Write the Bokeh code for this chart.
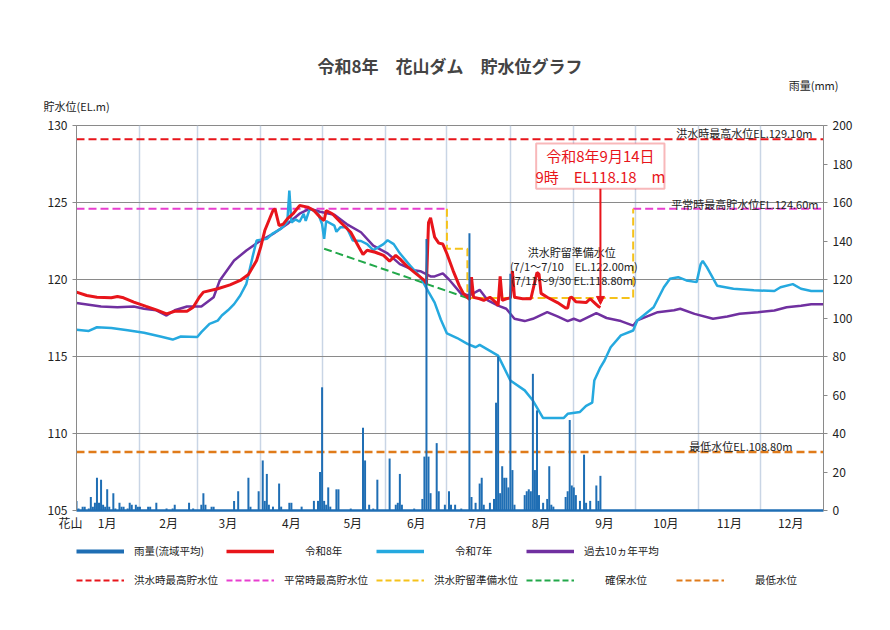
import numpy as np
from bokeh.plotting import figure
from bokeh.layouts import column
from bokeh.models import (Range1d, LinearAxis, FixedTicker, Legend, LegendItem,
                          Label, Arrow, NormalHead, Title, BoxAnnotation)
from bokeh.embed import file_html
from bokeh.resources import INLINE

FONT = "Noto Sans CJK JP"

# x axis: day of year, months
month_names = ["1月", "2月", "3月", "4月", "5月", "6月", "7月", "8月", "9月", "10月", "11月", "12月"]
month_starts = [0, 31, 59, 90, 120, 151, 181, 212, 243, 273, 304, 334, 365]
level_ticks = [105, 110, 115, 120, 125, 130]
rain_ticks = [0, 20, 40, 60, 80, 100, 120, 140, 160, 180, 200]

# daily basin-average rainfall (mm), 令和8年
rain_days = [0, 1, 3, 4, 6, 7, 8, 9, 10, 11, 12, 13, 14, 15, 16, 18, 19, 21, 22, 23, 25, 26, 27,
             29, 30, 31, 35, 36, 39, 44, 47, 48, 55, 57, 61, 62, 63, 66, 67, 77, 79, 84, 85, 89,
             91, 92, 93, 94, 96, 99, 100, 104, 105, 110, 116, 118, 119, 120, 121, 122, 123, 124,
             127, 128, 134, 140, 141, 143, 145, 147, 153, 156, 157, 158, 159, 165, 169, 170, 171,
             172, 173, 176, 177, 180, 182, 183, 185, 188, 192, 193, 195, 197, 198, 199, 202, 204,
             205, 206, 207, 208, 209, 210, 211, 212, 213, 214, 219, 220, 221, 222, 223, 224, 225,
             226, 228, 230, 231, 232, 233, 239, 240, 241, 242, 243, 244, 246, 248, 249, 251, 254,
             255, 256]
rain_mm = [5, 1, 2, 2, 1, 7, 2, 4, 17, 4, 16, 3, 2, 11, 2, 9, 1, 4, 2, 2, 1, 4, 3,
           3, 2, 2, 2, 2, 4, 1, 1, 3, 4, 1, 3, 9, 3, 2, 2, 5, 10, 17, 2, 10,
           26, 5, 19, 3, 2, 14, 2, 4, 4, 2, 5, 5, 20, 64, 5, 3, 12, 2,
           11, 11, 1, 43, 26, 3, 1, 16, 27, 3, 4, 19, 3, 1, 6, 28, 141,
           28, 9, 35, 10, 3, 10, 3, 3, 1, 144, 7, 4, 14, 17, 3, 4, 6,
           56, 80, 9, 23, 17, 17, 12, 123, 21, 3, 8, 10, 11, 10, 71, 21, 52,
           8, 4, 6, 23, 3, 2, 7, 10, 47, 13, 12, 8, 5, 29, 4, 5, 13,
           5, 18]

# 令和8年 reservoir level (EL.m)
r8_days = [0, 5, 10, 17, 20, 23, 28, 34, 39, 44, 48, 54, 57, 60, 62, 69, 75, 80, 84, 88, 90,
           92, 96, 97, 99, 101, 103, 106, 109, 113, 116, 119, 121, 122, 125, 129, 134, 138,
           140, 142, 146, 150, 153, 156, 158, 162, 166, 170, 171, 172, 173, 175, 177, 179,
           181, 184, 187, 189, 191, 192, 193, 194, 197, 199, 202, 205, 206, 207, 208, 210,
           212, 213, 214, 218, 222, 225, 226, 227, 230, 235, 239, 240, 241, 242, 244, 249,
           251, 253, 255, 256]
r8_level = [119.18, 118.96, 118.85, 118.81, 118.9, 118.81, 118.53, 118.25, 118.03, 117.77,
            117.94, 117.94, 118.2, 118.85, 119.18, 119.4, 119.65, 119.94, 120.32, 121.23, 122.1,
            123.18, 124.48, 124.59, 123.5, 123.6, 123.94, 124.3, 124.8, 124.7, 124.48, 124.05,
            123.83, 124.48, 124.27, 123.72, 123.07, 122.1, 121.62, 121.9, 121.77, 121.56,
            121.2, 121.56, 121.34, 120.8, 120.37, 119.94, 119.72, 123.7, 124.0, 122.75,
            122.36, 122.3, 121.67, 120.58, 119.6, 119.1, 118.85, 118.7, 120.15, 118.85,
            118.75, 118.64, 118.85, 118.5, 118.3, 120.2, 118.64, 118.75, 118.8, 120.55,
            118.85, 118.75, 118.75, 120.45, 120.35, 119.1, 118.85, 118.5, 118.15, 118.15,
            118.8, 118.85, 118.55, 118.5, 118.75, 118.5, 118.25, 118.18]

# 令和7年 reservoir level
r7_days = [0, 6, 10, 17, 25, 33, 41, 47, 51, 59, 61, 65, 69, 71, 74, 77, 80, 83, 86, 88, 93,
           96, 100, 103, 104, 105, 107, 109, 111, 112, 114, 118, 120, 121, 122, 126, 127, 129,
           132, 135, 139, 142, 145, 150, 152, 155, 158, 163, 168, 172, 175, 178, 181, 186,
           191, 195, 197, 206, 212, 219, 223, 228, 233, 238, 240, 246, 249, 252, 253, 256,
           258, 261, 266, 272, 274, 282, 287, 290, 294, 298, 303, 305, 306, 308, 313, 321,
           331, 341, 344, 350, 354, 359, 365]
r7_level = [116.73, 116.66, 116.9, 116.85, 116.7, 116.54, 116.3, 116.1, 116.3, 116.27, 116.58,
            117.12, 117.33, 117.66, 118.0, 118.4, 118.96, 119.72, 121.45, 122.53, 122.64,
            123.0, 123.3, 123.72, 125.78, 123.7, 123.9, 123.75, 124.27, 123.8, 124.6, 124.3,
            123.6, 122.64, 123.8, 123.5, 123.1, 123.4, 123.4, 122.53, 122.5, 122.3, 121.9,
            122.3, 122.55, 122.3, 121.7, 120.9, 120.15, 119.2, 118.5, 117.4, 116.5, 116.2,
            115.82, 115.6, 115.75, 115.06, 113.44, 112.8, 112.14, 111.0, 111.0, 111.0, 111.28,
            111.4, 111.8, 112.0, 113.44, 114.3, 114.74, 115.6, 116.37, 116.69, 117.34, 118.2,
            119.5, 120.05, 120.15, 119.94, 119.83, 121.0, 121.2, 120.8, 119.6, 119.4, 119.3,
            119.25, 119.5, 119.7, 119.4, 119.25, 119.25]

# 過去10ヵ年平均
avg_days = [0, 12, 20, 28, 33, 39, 44, 48, 54, 61, 67, 70, 77, 83, 90, 96, 103, 109, 114, 119,
            126, 132, 139, 145, 152, 158, 165, 168, 173, 175, 179, 182, 188, 192, 197, 201,
            206, 210, 214, 219, 223, 230, 235, 240, 243, 246, 254, 259, 266, 272, 274, 284,
            292, 295, 302, 311, 318, 324, 333, 341, 347, 354, 359, 365]
avg_level = [118.47, 118.25, 118.2, 118.25, 118.1, 118.0, 117.66, 118.0, 118.25, 118.25, 118.85,
             119.94, 121.23, 121.88, 122.53, 122.96, 123.6, 124.27, 124.6, 124.4, 124.2, 123.6,
             123.07, 122.2, 121.7, 121.0, 120.6, 120.54, 120.2, 120.2, 120.4, 120.0, 119.07,
             118.96, 119.33, 118.64, 118.3, 118.1, 117.45, 117.3, 117.45, 117.88, 117.6, 117.3,
             117.45, 117.3, 117.81, 117.5, 117.3, 117.0, 117.34, 117.88, 118.0, 118.1, 117.77,
             117.45, 117.6, 117.77, 117.88, 117.99, 118.2, 118.3, 118.4, 118.4]

# reference levels
flood_max_days = [0, 365]
flood_max_level = [129.1, 129.1]
normal_max_days = [0, 181, np.nan, 272, 365]
normal_max_level = [124.6, 124.6, np.nan, 124.6, 124.6]
prep_days = [181, 181, 191, 191, 272, 272]
prep_level = [124.6, 122.0, 122.0, 118.8, 118.8, 124.6]
secure_days = [121, 191]
secure_level = [122.0, 118.8]
min_days = [0, 365]
min_level = [108.8, 108.8]

RAIN = "#1f6eb4"
RED = "#e8151b"
SKY = "#25a9df"
PURPLE = "#7030a0"
PINK = "#e83ecf"
YELLOW = "#f5c21b"
GREEN = "#22a84a"
ORANGE = "#e07b1a"

p = figure(width=874, height=535, x_range=Range1d(0, 365), y_range=Range1d(105, 130),
           output_backend="svg", toolbar_location=None,
           min_border_left=76, min_border_right=51, min_border_top=125, min_border_bottom=25)
p.extra_y_ranges = {"rain": Range1d(0, 200)}

# titles: axis captions closest to the frame, main title outermost
p.add_layout(Title(text="貯水位(EL.m)", align="left", offset=-33, standoff=23,
                   text_font=FONT, text_font_size="11px", text_font_style="normal",
                   text_color="#222222"), "above")
p.add_layout(Title(text="雨量(mm)", align="right", offset=-15, standoff=-17,
                   text_font=FONT, text_font_size="11px", text_font_style="normal",
                   text_color="#222222"), "above")
p.title = Title(text="令和8年　花山ダム　貯水位グラフ", align="center", text_font=FONT,
                text_font_size="17px", text_font_style="bold", standoff=12)

# axes
p.yaxis.ticker = FixedTicker(ticks=level_ticks)
right = LinearAxis(y_range_name="rain", ticker=FixedTicker(ticks=rain_ticks))
p.add_layout(right, "right")
for ax in (p.yaxis[0], right):
    ax.axis_line_color = "#8a8a8a"
    ax.major_tick_line_color = "#8a8a8a"
    ax.major_tick_out = 4
    ax.major_tick_in = 0
    ax.minor_tick_line_color = None
    ax.major_label_text_font = FONT
    ax.major_label_text_font_size = "12px"
    ax.major_label_text_color = "#222222"
    ax.major_label_standoff = 5

month_mid = [(a + b) // 2 for a, b in zip(month_starts[:-1], month_starts[1:])]
p.xaxis.ticker = FixedTicker(ticks=[0] + month_mid)
p.xaxis.major_label_overrides = {0: "花山　", **dict(zip(month_mid, month_names))}
p.xaxis.major_tick_line_color = None
p.xaxis.major_tick_out = 0
p.xaxis.major_tick_in = 0
p.xaxis.minor_tick_line_color = None
p.xaxis.axis_line_color = RAIN
p.xaxis.axis_line_width = 2.5
p.xaxis.major_label_text_font = FONT
p.xaxis.major_label_text_font_size = "12px"
p.xaxis.major_label_text_color = "#222222"
p.xaxis.major_label_standoff = 3

p.xgrid.ticker = FixedTicker(ticks=month_starts)
p.xgrid.grid_line_color = "#c9d5e5"
p.xgrid.grid_line_width = 1.5
p.ygrid.grid_line_color = "#8a8a8a"
p.ygrid.grid_line_width = 1
p.outline_line_color = "#8a8a8a"

# reference levels
dash = "8 4"
p.line(flood_max_days, flood_max_level, line_color=RED, line_width=2, line_dash=dash)
p.line(normal_max_days, normal_max_level, line_color=PINK, line_width=2, line_dash=dash)
p.line(prep_days, prep_level, line_color=YELLOW, line_width=2, line_dash=dash)
p.line(secure_days, secure_level, line_color=GREEN, line_width=2, line_dash=dash)
p.line(min_days, min_level, line_color=ORANGE, line_width=2.5, line_dash=dash)

# levels
p.line(avg_days, avg_level, line_color=PURPLE, line_width=2.5)
p.line(r7_days, r7_level, line_color=SKY, line_width=2.5)
p.line(r8_days, r8_level, line_color=RED, line_width=3)

# rain bars
p.segment(x0=rain_days, y0=0, x1=rain_days, y1=rain_mm, y_range_name="rain",
          line_color=RAIN, line_width=2)

# texts inside the chart
def lab(**kw):
    kw.setdefault("text_font", FONT)
    kw.setdefault("text_font_size", "11px")
    kw.setdefault("text_color", "#222222")
    kw.setdefault("text_baseline", "middle")
    p.add_layout(Label(**kw))

lab(x=365, y=129.1, x_offset=-11, y_offset=6, text="洪水時最高水位EL.129.10m", text_align="right")
lab(x=365, y=124.6, x_offset=-5, y_offset=5, text="平常時最高貯水位EL.124.60m", text_align="right")
lab(x=365, y=108.8, x_offset=-31, y_offset=6, text="最低水位EL.108.80m", text_align="right")
lab(x=242, y=121.77, text="洪水貯留準備水位", text_align="center")
lab(x=243, y=120.9, text="(7/1～7/10　EL.122.00m)", text_align="center")
lab(x=243, y=119.94, text="(7/11～9/30 EL.118.80m)", text_align="center")

# latest value callout
last_day, last_level = r8_days[-1], r8_level[-1]
p.add_layout(BoxAnnotation(left=224.6, right=287.3, bottom=125.9, top=128.83,
                           fill_color="white", fill_alpha=1, line_color=RED, line_width=2))
lab(x=last_day, y=128.05, text="令和8年9月14日", text_align="center", text_font_size="15px",
    text_color=RED)
lab(x=last_day, y=126.69, text="9時　EL118.18　m", text_align="center", text_font_size="15px",
    text_color=RED)
p.add_layout(Arrow(end=NormalHead(size=8, fill_color=RED, line_color=RED),
                   x_start=last_day, y_start=125.9, x_end=last_day, y_end=last_level + 0.2,
                   line_color=RED, line_width=2))

# legend strip below the chart; its series sit outside the strip's view,
# so only the legend swatches show
lf = figure(width=874, height=79, x_range=Range1d(-2, -1), y_range=Range1d(-2, -1),
            x_axis_type=None, y_axis_type=None, output_backend="svg", toolbar_location=None,
            min_border_left=0, min_border_right=0, min_border_top=0, min_border_bottom=0,
            outline_line_color=None)

def swatch(xs, ys, color, width, dashed=False):
    return lf.line(xs, ys, line_color=color, line_width=width,
                   line_dash="6 3" if dashed else "solid")

def legend_row(items, y):
    leg = Legend(items=[LegendItem(label=t, renderers=[r]) for t, r in items],
                 orientation="horizontal", location=(0, y), glyph_width=48,
                 glyph_height=14, label_standoff=10, label_width=86, label_height=14,
                 spacing=6, padding=0, margin=0, border_line_color=None,
                 background_fill_alpha=0, label_text_font=FONT,
                 label_text_font_size="10.5px", label_text_color="#222222")
    lf.add_layout(leg, "center")

legend_row([("雨量(流域平均)", swatch(rain_days, rain_mm, RAIN, 4)),
            ("　　令和8年", swatch(r8_days, r8_level, RED, 3.5)),
            ("　　令和7年", swatch(r7_days, r7_level, SKY, 3.5)),
            ("過去10ヵ年平均", swatch(avg_days, avg_level, PURPLE, 3.5))], 56)
legend_row([("洪水時最高貯水位", swatch(flood_max_days, flood_max_level, RED, 2, True)),
            ("平常時最高貯水位", swatch(normal_max_days, normal_max_level, PINK, 2, True)),
            ("洪水貯留準備水位", swatch(prep_days, prep_level, YELLOW, 2, True)),
            ("　　確保水位", swatch(secure_days, secure_level, GREEN, 2, True)),
            ("　　最低水位", swatch(min_days, min_level, ORANGE, 2, True))], 27)

open("out.html", "w").write(file_html(column(p, lf), INLINE))
